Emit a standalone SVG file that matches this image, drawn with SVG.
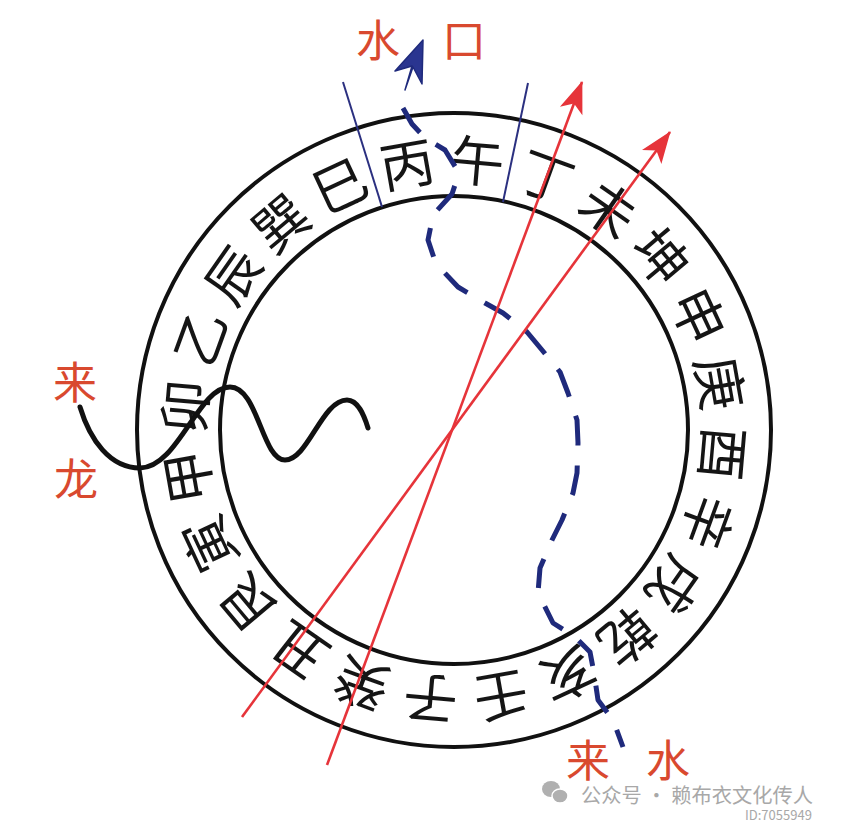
<svg xmlns="http://www.w3.org/2000/svg" width="845" height="825" viewBox="0 0 845 825">
<style>
.ring{fill:none;stroke:#111;stroke-width:4}
.ch{font-family:"Noto Sans CJK SC","Noto Sans CJK TC",sans-serif;font-size:54px;fill:#151515;text-anchor:middle;dominant-baseline:central}
.lbl{font-family:"Noto Sans CJK SC",sans-serif;font-size:44px;fill:#d9492f;text-anchor:middle;dominant-baseline:central}
.sector{stroke:#2b3080;stroke-width:2;fill:none}
.red{stroke:#e6343a;stroke-width:2.6;fill:none;marker-end:url(#ra)}
.wm{font-family:"Noto Sans CJK SC",sans-serif;fill:#a8a8a8}
</style>
<defs>
<marker id="ra" viewBox="-32 -14 34 28" refX="0" refY="0" markerWidth="34" markerHeight="28" markerUnits="userSpaceOnUse" orient="auto">
<path d="M1,0 L-31,-12 L-23,0 L-31,12 Z" fill="#e6343a"/>
</marker>
</defs>
<rect width="845" height="825" fill="#ffffff"/>
<g id="compass">
<circle class="ring" cx="454" cy="430" r="317"/>
<circle class="ring" cx="454" cy="430" r="234"/>
<g id="mountains">
<text class="ch" x="454" y="157" transform="rotate(-10 454 430)">丙</text>
<text class="ch" x="454" y="157" transform="rotate(5 454 430)">午</text>
<text class="ch" x="454" y="157" transform="rotate(20 454 430)">丁</text>
<text class="ch" x="454" y="157" transform="rotate(35 454 430)">未</text>
<text class="ch" x="454" y="157" transform="rotate(50 454 430)">坤</text>
<text class="ch" x="454" y="157" transform="rotate(65 454 430)">申</text>
<text class="ch" x="454" y="157" transform="rotate(80 454 430)">庚</text>
<text class="ch" x="454" y="157" transform="rotate(95 454 430)">酉</text>
<text class="ch" x="454" y="157" transform="rotate(110 454 430)">辛</text>
<text class="ch" x="454" y="157" transform="rotate(125 454 430)">戌</text>
<text class="ch" x="454" y="157" transform="rotate(140 454 430)">乾</text>
<text class="ch" x="454" y="157" transform="rotate(155 454 430)">亥</text>
<text class="ch" x="454" y="157" transform="rotate(170 454 430)">壬</text>
<text class="ch" x="454" y="157" transform="rotate(185 454 430)">子</text>
<text class="ch" x="454" y="157" transform="rotate(200 454 430)">癸</text>
<text class="ch" x="454" y="157" transform="rotate(215 454 430)">丑</text>
<text class="ch" x="454" y="157" transform="rotate(230 454 430)">艮</text>
<text class="ch" x="454" y="157" transform="rotate(245 454 430)">寅</text>
<text class="ch" x="454" y="157" transform="rotate(260 454 430)">甲</text>
<text class="ch" x="454" y="157" transform="rotate(275 454 430)">卯</text>
<text class="ch" x="454" y="157" transform="rotate(290 454 430)">乙</text>
<text class="ch" x="454" y="157" transform="rotate(305 454 430)">辰</text>
<text class="ch" x="454" y="157" transform="rotate(320 454 430)">巽</text>
<text class="ch" x="454" y="157" transform="rotate(335 454 430)">巳</text>
</g>
</g>
<g id="labels">
<text class="lbl" x="75" y="380">来</text>
<text class="lbl" x="76" y="477">龙</text>
<text class="lbl" x="378" y="38">水</text>
<text class="lbl" x="464" y="38">口</text>
<text class="lbl" x="588" y="758">来</text>
<text class="lbl" x="668" y="758">水</text>
</g>
<g id="connectors">
<line class="sector" x1="382" y1="207" x2="343" y2="82"/>
<line class="sector" x1="503" y1="202" x2="528" y2="83"/>
<path id="water-flow" d="M403,108 L412,124 L425,138 L445,150 L456,168 L456,182 L452,194 L433,215 L428,240 L434,258 L442,270 L458,287 L485,303 L503,313 L527,332 L542,350 L560,372 L568,393 L577,420 L578,443 L577,473 L573,493 L562,520 L552,540 L540,568 L538,593 L553,623 L575,637 L590,652 L594,673 L598,700 L613,720 L623,747" fill="none" stroke="#1f2a7c" stroke-width="5" stroke-dasharray="30 20" stroke-linejoin="round"/>
<path id="water-arrow" d="M405,90 L412,66 L395,71 L423,40 L422,84 L413,67 Z" fill="#2a3590" stroke="#1f2a7c" stroke-width="1.5" stroke-linejoin="round"/>
<line class="red" x1="242" y1="717" x2="670" y2="132"/>
<line class="red" x1="327" y1="765" x2="582" y2="82"/>
<path id="dragon" d="M80,407 C90,440 110,468 140,468 C178,468 198,387 230,387 C258,387 262,460 285,460 C308,460 322,400 347,400 C358,400 364,415 368,428" fill="none" stroke="#111" stroke-width="5" stroke-linecap="round"/>
</g>
<g id="watermark">
<ellipse cx="551" cy="789" rx="9" ry="8" fill="#b0b0b0"/>
<ellipse cx="560" cy="796" rx="8" ry="7" fill="#b0b0b0" stroke="#fff" stroke-width="1.5"/>
<text class="wm" x="581" y="803" font-size="20" textLength="232" lengthAdjust="spacingAndGlyphs">公众号 · 赖布衣文化传人</text>
<text class="wm" x="745" y="820" font-size="13">ID:7055949</text>
</g>
</svg>
